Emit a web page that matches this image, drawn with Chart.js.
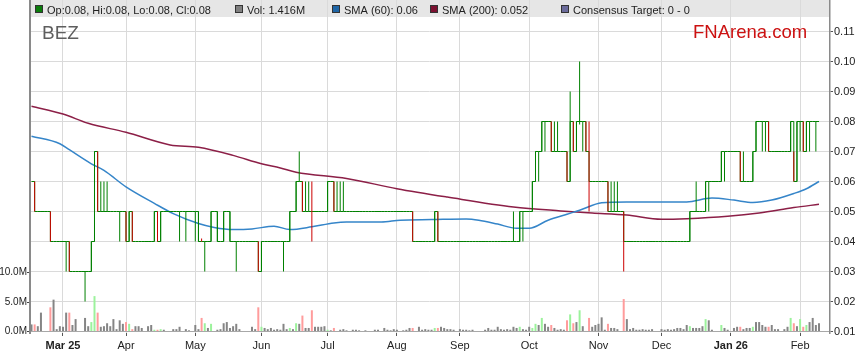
<!DOCTYPE html>
<html>
<head>
<meta charset="utf-8">
<script src="https://cdn.jsdelivr.net/npm/chart.js@4.4.1/dist/chart.umd.min.js"></script>
<style>
  html, body { margin: 0; padding: 0; background: #fff; }
  canvas { display: block; }
</style>
</head>
<body>
<canvas id="chart" width="859" height="363"></canvas>
<script>
// BEZ daily bars, mid Feb 2025 to Feb 2026. Prices in cents, volume in millions.
const openC = [
	6,6,5,5,5,5,5,4,4,4, 4,4,4,3,3,3,3,3,3,3, 4,7,5,5,5,5,5,5,5,5, 5,4,5,4,4,4,4,4,4,4,
	5,4,5,5,5,5,5,5,5,5, 5,5,5,4,4.1,3,4,4,5,4, 4,5,5,4,4,4,4,4,4,4, 4,4,4,3,4,4,4,4,4,4,
	4,4,4,5,5,6,6,5,5,6, 5,5,5,5,5,6,6,5,5,5, 5,5,5,5,5,5,5,5,5,5, 5,5,5,5,5,5,5,5,5,5,
	5,5,4,4,4,4,4,4,4,5, 4,4,4,4,4,4,4,4,4,4, 4,4,4,4,4,4,4,4,4,4, 4,4,4,4,4,4,5,5,5,5,
	6,7,7,8,8,8,7,7,7,7, 7,6,8,8,7.9,8,8,8,6,6, 6,6,6,6,5,5,5,5,5,4, 4,4,4,4,4,4,4,4,4,4,
	4,4,4,4,4,4,4,4,4,4, 5,5,5,5,5,6,6,6,6,6, 7,7,7,7,7,7,6,6,6,6, 8,8,8,8,8,7,7,7,7,7,
	7,7,7,8,7,8,7,8,8,8, 8
];
const highC = [
	6,6,5,5,5,5,5,4,4,4, 4,4,4,3,3,3,3,3,3,4, 7,7,6,6,6,5,5,5,5,5, 5,5,5,4,4,4,4,4,4,5,
	5,5,5,5,5,5,5,5,5,5, 5,5,5,5,4.1,4,4,5,5,5, 4,5,5,5,4,4,4,4,4,4, 4,4,4,4,4,4,4,4,4,4,
	4,4,5,5,6,7,6,6,6,6, 5,5,5,5,6,6,6,6,6,6, 5,5,5,5,5,5,5,5,5,5, 5,5,5,5,5,5,5,5,5,5,
	5,5,4,4,4,4,4,4,5,5, 4,4,4,4,4,4,4,4,4,4, 4,4,4,4,4,4,4,4,4,4, 4,4,4,5,4,5,5,5,5,6,
	7,7,8,8,8,8,8,8,7,7, 7,9,8,8,10,8,8,8,6,6, 6,6,6,6,6,6,6,5,5,4, 4,4,4,4,4,4,4,4,4,4,
	4,4,4,4,4,4,4,4,4,5, 5,6,5,5,6,6,6,6,6,7, 7,7,7,7,7,7,7,6,6,7, 8,8,8,8,8,7,7,7,7,7,
	7,8,7,8,8,8,8,8,8,8, 8
];
const lowC = [
	6,5,5,5,5,5,4,4,4,4, 4,3,3,3,3,3,3,2,3,3, 4,5,5,5,5,5,5,5,4,5, 4,4,4,4,4,4,4,4,4,4,
	4,4,5,5,5,5,5,4,5,4, 5,5,4,4,4,3,4,4,5,4, 4,4,5,4,4,3,4,4,4,4, 4,4,3,3,4,4,4,4,4,4,
	3,4,4,5,5,6,5,5,5,4, 5,5,5,5,5,6,5,5,5,5, 5,5,5,5,5,5,5,5,5,5, 5,5,5,5,5,5,5,5,5,5,
	5,4,4,4,4,4,4,4,4,4, 4,4,4,4,4,4,4,4,4,4, 4,4,4,4,4,4,4,4,4,4, 4,4,4,4,4,4,4,5,5,5,
	6,6,7,7,8,7,7,7,7,7, 6,6,7,7,7.9,7,7,5,6,6, 6,6,6,5,5,5,5,5,3,4, 4,4,4,4,4,4,4,4,4,4,
	4,4,4,4,4,4,4,4,4,4, 5,5,5,5,5,5,6,6,6,6, 6,7,7,7,7,6,6,6,6,6, 7,8,7,7,7,7,7,7,7,7,
	7,7,6,6,7,7,7,7,8,7, 8
];
const closeC = [
	6,5,5,5,5,5,4,4,4,4, 4,4,3,3,3,3,3,3,3,4, 7,5,5,5,5,5,5,5,5,5, 4,5,4,4,4,4,4,4,4,5,
	4,5,5,5,5,5,5,5,5,5, 5,5,5,4,4,4,4,5,5,4, 4,5,5,4,4,4,4,4,4,4, 4,4,3,4,4,4,4,4,4,4,
	4,4,5,5,6,6,5,5,5,5, 5,5,5,5,6,6,5,5,5,5, 5,5,5,5,5,5,5,5,5,5, 5,5,5,5,5,5,5,5,5,5,
	5,4,4,4,4,4,4,4,5,4, 4,4,4,4,4,4,4,4,4,4, 4,4,4,4,4,4,4,4,4,4, 4,4,4,4,4,5,5,5,5,6,
	7,7,8,8,8,7,7,7,7,7, 6,8,7,8,8,8,7,6,6,6, 6,6,6,5,5,5,5,5,4,4, 4,4,4,4,4,4,4,4,4,4,
	4,4,4,4,4,4,4,4,4,5, 5,5,5,5,6,6,6,6,6,7, 7,7,7,7,7,6,6,6,6,7, 8,8,8,8,7,7,7,7,7,7,
	7,8,6,8,8,7,8,8,8,8, 8
];
const volM = [
	1.2,1.2,0.9,3.2,0,0,4.1,5.4,0.4,0.9, 0.8,3.2,3.2,1.1,2.1,0,0,2.3,0.9,1.6,
	6.0,3.2,0.8,0.9,1.4,0.9,2.1,0.4,1.9,1.3, 1.6,1.3,0.4,0.9,0.9,0.6,0,0.9,1.1,0.3,
	0.3,0.4,0.3,0,0,0.4,0.4,0.8,0,0.4, 0.2,0,1.1,0.4,2.3,1.4,0.6,1.3,0,0.3,
	0.4,1.4,1.6,0.6,0.9,1.3,0.4,0,0,0, 0.8,0.4,4.1,0.8,0.6,0.4,0.6,0.3,0.4,0.3,
	1.3,0.4,0.6,0.4,1.4,1.3,2.7,0.6,0.6,3.6, 0.8,0.8,0.8,0.9,0.3,0.2,0.6,0,0.3,0.4,
	0.2,0,0.3,0.3,0.2,0,0.2,0,0,0.3, 0.3,0,0.6,0.3,0.2,0.4,0.3,0,0.2,0.3,
	0.6,0.6,0,0.8,0.3,0.4,0.3,0.3,0.6,0.6, 0.8,0.6,0.4,0.4,0.3,0,0.4,0.3,0.3,0.2,
	0.3,0,0,0,0.3,0.6,0.3,0.3,0.8,0.4, 0.3,0.4,0.3,0.8,0.6,0.8,0.4,0.3,0.8,0.6,
	1.3,1.1,2.3,1.3,0.8,1.1,0.6,0.3,0.4,0.3, 1.9,2.9,1.4,1.6,3.6,0.9,0.1,2.3,0.8,1.1,
	1.3,2.4,0.3,1.3,0.6,0.6,0.4,0,5.5,2.1, 0.4,0.6,0.3,0.3,0.4,0.3,0.3,0.4,0,0,
	0.4,0.3,0.4,0.3,0.4,0.6,0.6,0.4,1.1,0.9, 0.6,0.6,0.6,0.9,2.1,1.9,0.3,0,0,1.1,
	0.6,0.3,0,0.6,0.8,0.8,0.4,0.6,0.6,0.8, 1.6,1.6,1.1,0.8,0.8,1.1,0.4,0.4,0,0.4,
	0.8,2.3,1.4,0.9,2.1,0.8,1.1,1.6,2.3,1.1, 1.4
];

// moving averages at these bar numbers
const sma60Day = [0,9,12,19,23,30,39,45,53,58, 64,70,77,82,89,96,100,111,117,127,
	138,142,148,154,158,164,170,174,181,189, 208,216,223,229,235,242,246,250];
const sma60 = [0.0751,0.0726,0.0706,0.0659,0.0637,0.0582,0.0527,0.0493,0.0460,0.0447,
	0.0440,0.0442,0.0451,0.0440,0.0449,0.0462,0.0465,0.0465,0.0471,0.0473,
	0.0475,0.0471,0.0458,0.0444,0.0444,0.0471,0.0491,0.0504,0.0529,0.0532,
	0.0532,0.0545,0.0538,0.0530,0.0538,0.0560,0.0576,0.0600];
const sma200Day = [0,10,18,30,44,53,64,73,79,84, 100,116,132,153,168,178,189,200,208,221, 231,242,250];
const sma200 = [0.0851,0.0825,0.0794,0.0764,0.0722,0.0714,0.0687,0.0659,0.0645,0.0631,
	0.0610,0.0576,0.0548,0.0515,0.0502,0.0495,0.0488,0.0474,0.0476,0.0484,
	0.0495,0.0513,0.0524];

// axis ticks
const monthDay = [10,30,52,73,94,116,136,158,180,200,222,244];
const monthLabels = ['Mar 25','Apr','May','Jun','Jul','Aug','Sep','Oct','Nov','Dec','Jan 26','Feb'];
const priceTicks = [0.01,0.02,0.03,0.04,0.05,0.06,0.07,0.08,0.09,0.10,0.11];
const volTicks = [0, 5, 10];

const ticker = 'BEZ';
const brand = 'FNArena.com';
const legendText = ['Op:0.08, Hi:0.08, Lo:0.08, Cl:0.08', 'Vol: 1.416M', 'SMA (60): 0.06', 'SMA (200): 0.052', 'Consensus Target: 0 - 0'];

const FONT = '"Liberation Sans", Arial, sans-serif';
Chart.defaults.font.family = FONT;
Chart.defaults.font.size = 11;
Chart.defaults.color = '#222';

const days = closeC.map((_, i) => i);
const bar_color = days.map(i => closeC[i] >= openC[i] ? '#008000' : '#cc0000');
const vol_color = days.map(i => closeC[i] > openC[i] ? '#9cf29c' : (closeC[i] < openC[i] ? '#ff9c9c' : '#858585'));

const no_pad = (s) => { s.paddingTop = 0; s.paddingBottom = 0; s.paddingLeft = 0; s.paddingRight = 0; };

const overlay = {
	id: 'overlay',
	beforeDraw(chart) {
		const {ctx, chartArea} = chart;
		ctx.save();
		ctx.fillStyle = '#e6e6e6';
		ctx.fillRect(chartArea.left, 0, chartArea.right - chartArea.left, 17);
		ctx.restore();
	},
	beforeDatasetsDraw(chart) {
		const ctx = chart.ctx;
		ctx.save();
		ctx.textBaseline = 'alphabetic';
		ctx.font = '19px ' + FONT;
		ctx.fillStyle = '#5e5e5e';
		ctx.fillText(ticker, 42, 39);
		ctx.font = '18.5px ' + FONT;
		ctx.fillStyle = '#cc1111';
		ctx.fillText(brand, 693, 38);
		ctx.restore();
	},
	afterDraw(chart) {
		const ctx = chart.ctx;
		const xs = [47, 247, 344, 442, 573];
		const cols = ['#0b7d0b', '#808080', '#1f66a6', '#7c1131', '#6c6c9c'];
		ctx.save();
		ctx.font = '11px ' + FONT;
		ctx.textBaseline = 'alphabetic';
		legendText.forEach((t, k) => {
			const x = xs[k];
			ctx.fillStyle = cols[k];
			ctx.fillRect(x - 12, 5, 8, 8);
			ctx.strokeStyle = '#333';
			ctx.lineWidth = 1;
			ctx.strokeRect(x - 11.5, 5.5, 7, 7);
			ctx.fillStyle = '#222';
			ctx.fillText(t, x, 14);
		});
		ctx.restore();
	}
};

const chart = new Chart(document.getElementById('chart').getContext('2d'), {
	type: 'line',
	data: {
		datasets: [{
			label: 'Range',
			type: 'bar',
			data: days.map(i => ({x: i, y: [lowC[i] / 100, highC[i] / 100]})),
			backgroundColor: bar_color,
			barThickness: 1,
			inflateAmount: 0,
			grouped: false,
			yAxisID: 'y',
			order: 1
		}, {
			label: 'Close',
			data: days.map(i => ({x: i, y: closeC[i] / 100})),
			borderColor: '#008000',
			borderWidth: 1,
			stepped: 'before',
			pointRadius: 0,
			yAxisID: 'y',
			order: 2
		}, {
			label: 'SMA60',
			data: sma60Day.map((d, k) => ({x: d, y: sma60[k]})),
			borderColor: '#3585c9',
			borderWidth: 1.5,
			cubicInterpolationMode: 'monotone',
			pointRadius: 0,
			yAxisID: 'y',
			order: 3
		}, {
			label: 'SMA200',
			data: sma200Day.map((d, k) => ({x: d, y: sma200[k]})),
			borderColor: '#8c1f47',
			borderWidth: 1.5,
			cubicInterpolationMode: 'monotone',
			pointRadius: 0,
			yAxisID: 'y',
			order: 3
		}, {
			label: 'Volume',
			type: 'bar',
			data: days.map(i => ({x: i, y: volM[i]})),
			backgroundColor: vol_color,
			barThickness: 2,
			inflateAmount: 0,
			grouped: false,
			yAxisID: 'yv',
			order: 5
		}]
	},
	options: {
		responsive: false,
		animation: false,
		events: [],
		layout: { padding: 0 },
		plugins: {
			legend: { display: false },
			tooltip: { enabled: false },
			title: { display: false }
		},
		scales: {
			x: {
				type: 'linear',
				min: -0.476,
				max: 253.49,
				offset: false,
				afterBuildTicks: (s) => { s.ticks = monthDay.map(v => ({value: v})); },
				afterFit: (s) => { s.height = 30; no_pad(s); },
				grid: { color: '#dadada', tickColor: '#555', tickLength: 3, offset: false },
				border: { display: false },
				ticks: {
					autoSkip: false,
					maxRotation: 0,
					padding: 3,
					color: '#222',
					font: (c) => ({ size: 11, weight: (monthLabels[c.index] || '').includes(' ') ? 'bold' : 'normal' }),
					callback: (v) => monthLabels[monthDay.indexOf(v)]
				}
			},
			y: {
				type: 'linear',
				position: 'right',
				min: 0.0095,
				max: 0.1205,
				afterBuildTicks: (s) => { s.ticks = priceTicks.map(v => ({value: v})); },
				afterFit: (s) => { s.width = 29; no_pad(s); },
				grid: { color: (c) => c.index === 0 ? '#a8a8a8' : '#dadada', tickColor: '#555', tickLength: 3 },
				border: { color: '#8a8a8a', width: 1.5 },
				ticks: { padding: 1, color: '#222', callback: (v) => v.toFixed(2) }
			},
			yv: {
				type: 'linear',
				position: 'left',
				min: -0.254,
				max: 56.19,
				afterBuildTicks: (s) => { s.ticks = volTicks.map(v => ({value: v})); },
				afterFit: (s) => { s.width = 30; no_pad(s); },
				grid: { drawOnChartArea: false, tickColor: '#444', tickLength: 3 },
				border: { color: '#8a8a8a', width: 2 },
				ticks: { padding: 0, color: '#222', font: { size: 10 }, callback: (v) => v.toFixed(1) + 'M' }
			}
		}
	},
	plugins: [overlay]
});
</script>
</body>
</html>
